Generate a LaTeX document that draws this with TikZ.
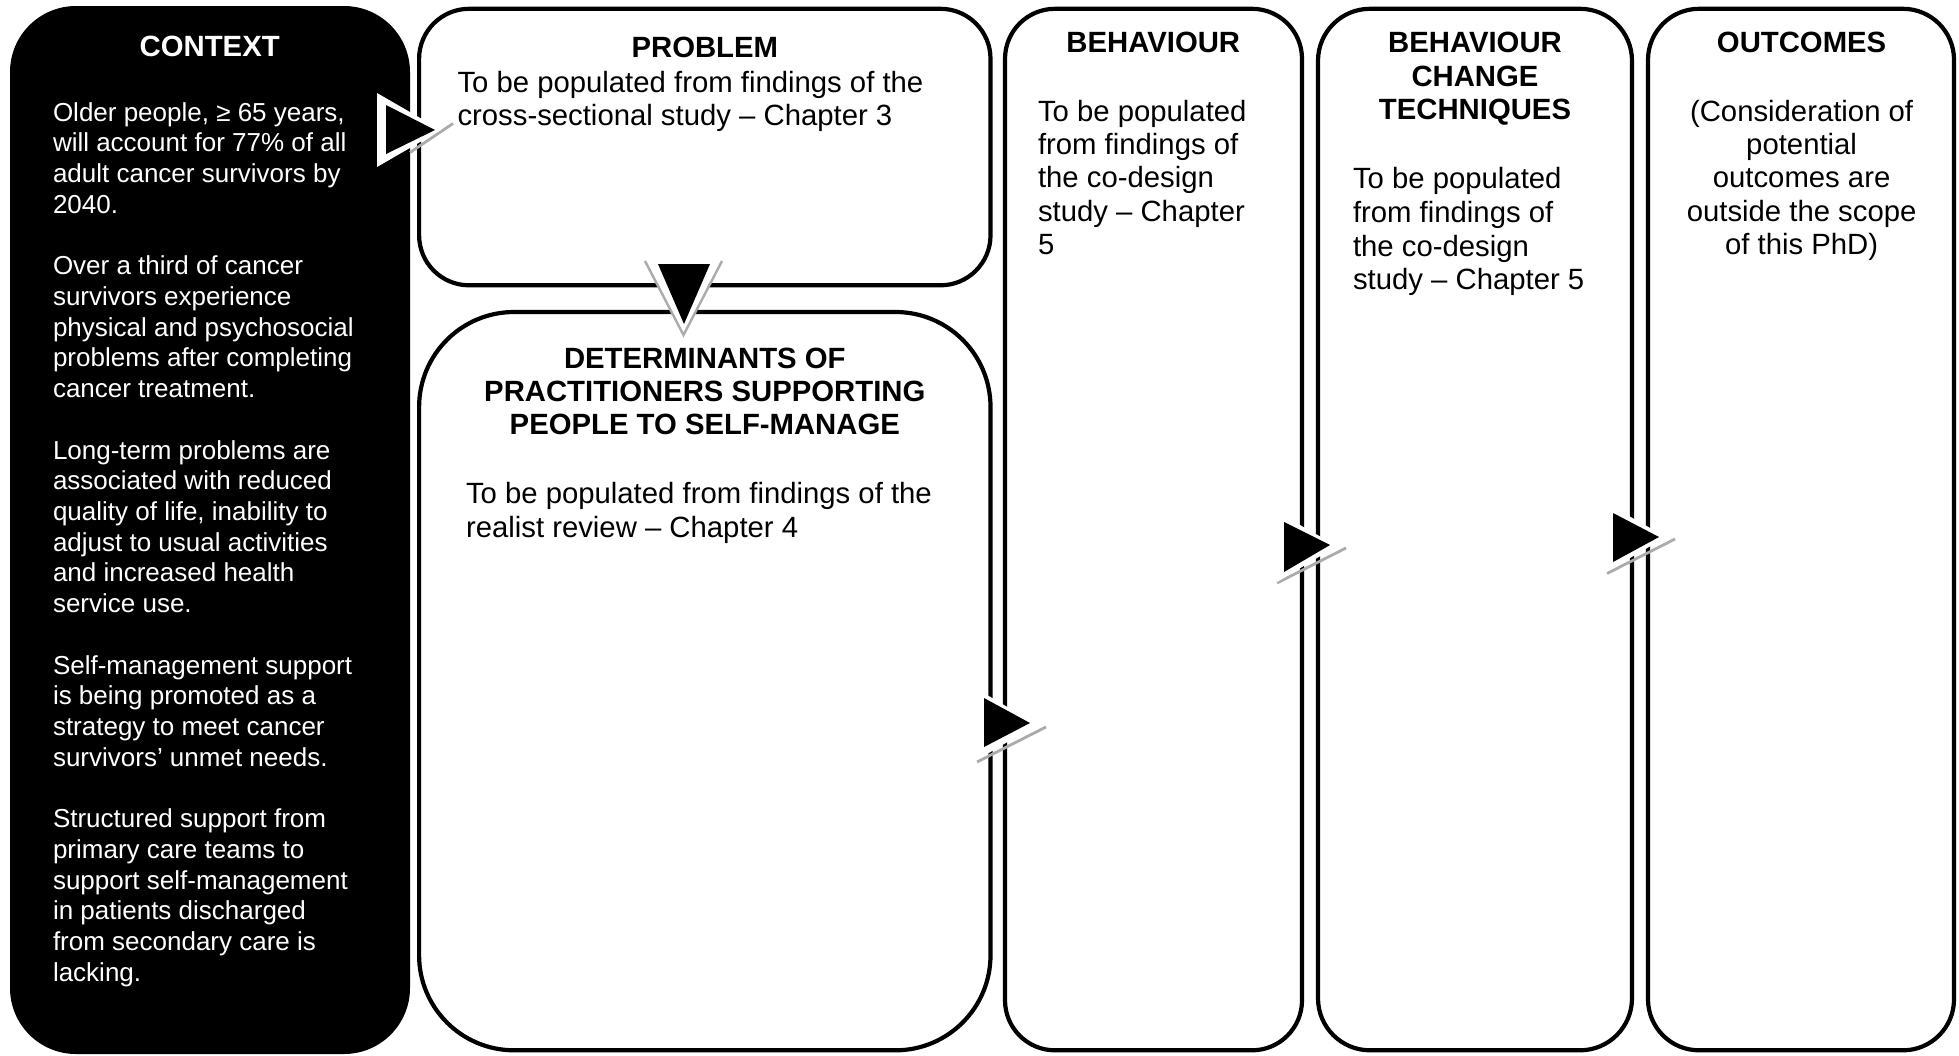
\documentclass[tikz,border=0pt]{standalone}
\usepackage{fontspec}
\setmainfont{Liberation Sans}
\begin{document}
\begin{tikzpicture}[x=1pt,y=-1pt,
  panel/.style={rectangle, draw=black, line width=4.2pt, fill=white, inner sep=0pt, outer sep=0pt},
  ctxpanel/.style={rectangle, fill=black, draw=none, inner sep=0pt, outer sep=0pt},
  txt/.style={inner sep=0pt, outer sep=0pt},
  ttl/.style={txt, anchor=base, font=\fontsize{29.3}{33.4}\selectfont\bfseries},
  bodyl/.style={txt, anchor=base west, font=\fontsize{29.3}{33.6}\selectfont},
  bodyc/.style={txt, anchor=base, font=\fontsize{29.3}{33.4}\selectfont},
  ctxtext/.style={txt, anchor=base west, text=white, font=\fontsize{26}{30.73}\selectfont},
  pointer/.style={fill=black},
  halo/.style={fill=white},
  shade/.style={draw=black!33, line width=2.8pt, line cap=butt, line join=miter},
]
\useasboundingbox (0,0) rectangle (1959,1055);

% panels
\node[ctxpanel, rounded corners=66pt, minimum width=400pt, minimum height=1048pt] (context) at (210,530) {};
\node[panel, rounded corners=50pt, minimum width=571.4pt, minimum height=276.5pt] (problem) at (704.8,147.05) {};
\node[panel, rounded corners=95pt, minimum width=571.4pt, minimum height=738.3pt] (determinants) at (704.8,681.15) {};
\node[panel, rounded corners=50pt, minimum width=297pt, minimum height=1041.5pt] (behaviour) at (1153.5,529.55) {};
\node[panel, rounded corners=52pt, minimum width=314pt, minimum height=1041.5pt] (bct) at (1475,529.55) {};
\node[panel, rounded corners=51pt, minimum width=306pt, minimum height=1041.5pt] (outcomes) at (1801,529.55) {};

% context column
\node[ttl, text=white] (ctxtitle) at (209.7,56.7) {CONTEXT};
\node[ctxtext] (ctxbody) at (53,121) {\begin{tabular}[t]{@{}l@{}}
Older people, ≥ 65 years,\\
will account for 77\% of all\\
adult cancer survivors by\\
2040.\\
\\
Over a third of cancer\\
survivors experience\\
physical and psychosocial\\
problems after completing\\
cancer treatment.\\
\\
Long-term problems are\\
associated with reduced\\
quality of life, inability to\\
adjust to usual activities\\
and increased health\\
service use.\\
\\
Self-management support\\
is being promoted as a\\
strategy to meet cancer\\
survivors’ unmet needs.\\
\\
Structured support from\\
primary care teams to\\
support self-management\\
in patients discharged\\
from secondary care is\\
lacking.
\end{tabular}};

% problem
\node[ttl] (probtitle) at (704.8,57.5) {PROBLEM};
\node[bodyl, font=\fontsize{29.3}{33.7}\selectfont] (probbody) at (457.5,92) {\begin{tabular}[t]{@{}l@{}}
To be populated from findings of the\\
cross-sectional study – Chapter 3
\end{tabular}};

% determinants
\node[ttl, font=\fontsize{29.3}{33.2}\selectfont\bfseries] (dettitle) at (704.8,368.5) {\begin{tabular}[t]{@{}c@{}}
DETERMINANTS OF\\
PRACTITIONERS SUPPORTING\\
PEOPLE TO SELF-MANAGE
\end{tabular}};
\node[bodyl, font=\fontsize{29.3}{33.5}\selectfont] (detbody) at (466,503.5) {\begin{tabular}[t]{@{}l@{}}
To be populated from findings of the\\
realist review – Chapter 4
\end{tabular}};

% behaviour
\node[ttl] (behtitle) at (1153.3,52.5) {BEHAVIOUR};
\node[bodyl, font=\fontsize{29.3}{33.4}\selectfont] (behbody) at (1038,121) {\begin{tabular}[t]{@{}l@{}}
To be populated\\
from findings of\\
the co-design\\
study – Chapter\\
5
\end{tabular}};

% behaviour change techniques
\node[ttl, font=\fontsize{29.3}{33.7}\selectfont\bfseries] (bcttitle) at (1475,52.5) {\begin{tabular}[t]{@{}c@{}}
BEHAVIOUR\\
CHANGE\\
TECHNIQUES
\end{tabular}};
\node[bodyl, font=\fontsize{29.3}{33.7}\selectfont] (bctbody) at (1353,188.7) {\begin{tabular}[t]{@{}l@{}}
To be populated\\
from findings of\\
the co-design\\
study – Chapter 5
\end{tabular}};

% outcomes
\node[ttl] (outtitle) at (1801.6,52.5) {OUTCOMES};
\node[bodyc] (outbody) at (1801.6,121) {\begin{tabular}[t]{@{}c@{}}
(Consideration of\\
potential\\
outcomes are\\
outside the scope\\
of this PhD)
\end{tabular}};

% pointer from context to problem
\draw[shade] (410,152.5) -- (453,123.5);
\fill[halo] (377,93) -- (377,167) -- (441,130) -- cycle;
\fill[pointer] (386,105) -- (386,154) -- (435,130) -- cycle;

% pointer from problem down to determinants
\fill[halo] (644,256) -- (723,256) -- (683.5,334) -- cycle;
\draw[shade, line width=2.4pt] (645,261) -- (683.5,335) -- (722,261);
\fill[pointer] (658,264) -- (710,264) -- (684,324) -- cycle;

% pointer from determinants to behaviour
\draw[shade] (977,762) -- (1046,727);
\fill[halo] (977,689) -- (977,760) -- (1037,724.5) -- cycle;
\fill[pointer] (984,698) -- (984,747) -- (1030,723) -- cycle;

% pointer from behaviour to techniques
\draw[shade] (1277,583) -- (1346,548);
\fill[halo] (1277,512) -- (1277,582) -- (1337,546) -- cycle;
\fill[pointer] (1284,522) -- (1284,572) -- (1330,545) -- cycle;

% pointer from techniques to outcomes
\draw[shade] (1607,573.5) -- (1675,539);
\fill[halo] (1606,503) -- (1606,572) -- (1666,537) -- cycle;
\fill[pointer] (1613,513) -- (1613,562) -- (1659,537) -- cycle;
\end{tikzpicture}
\end{document}
